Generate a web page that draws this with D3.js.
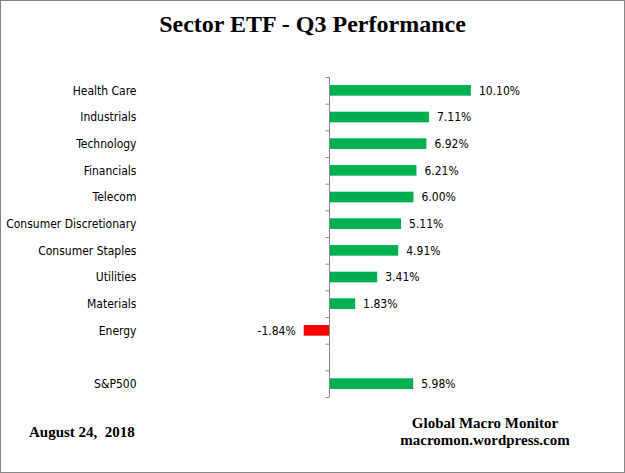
<!DOCTYPE html>
<html><head><meta charset="utf-8">
<script src="https://cdn.jsdelivr.net/npm/d3@7"></script>
<style>
html,body{margin:0;padding:0;background:#fff;}
svg{display:block;}
</style></head>
<body>
<svg id="chart" width="625" height="473"></svg>
<script>
const categories = ["Health Care","Industrials","Technology","Financials","Telecom","Consumer Discretionary","Consumer Staples","Utilities","Materials","Energy"," ","S&P500"];
const values = [10.10, 7.11, 6.92, 6.21, 6.00, 5.11, 4.91, 3.41, 1.83, -1.84, null, 5.98];
const valueLabels = ["10.10%","7.11%","6.92%","6.21%","6.00%","5.11%","4.91%","3.41%","1.83%","-1.84%","","5.98%"];
const titleText = "Sector ETF - Q3 Performance";
const dateText = "August 24,\u00a0\u00a02018";
const sourceLines = ["Global Macro Monitor","macromon.wordpress.com"];

(function(){
const W = 625, H = 473;
const svg = d3.select("#chart");
const labelFont = "'DejaVu Sans Condensed','DejaVu Sans',sans-serif";
const serif = "'Liberation Serif','Times New Roman',serif";

svg.append("rect").attr("x",0.5).attr("y",0.5).attr("width",W-1).attr("height",H-1)
  .attr("fill","#fff").attr("stroke","#868686").attr("stroke-width",1);

svg.append("text").attr("x",312.5).attr("y",32).attr("text-anchor","middle")
  .attr("font-family",serif).attr("font-weight","bold").attr("font-size",24)
  .attr("fill","#000").text(titleText);

const plotTop = 77, plotBottom = 397;
const y = d3.scaleBand().domain(categories).range([plotTop, plotBottom]).padding(0);
const x = d3.scaleLinear().domain([-4, 12]).range([329.5 - 4*14, 329.5 + 12*14]);

const barH = y.bandwidth()*0.4;
const rows = values.map((v,i)=>({v,c:categories[i],l:valueLabels[i]})).filter(d=>d.v!==null);
const g = svg.append("g");

g.selectAll("rect.bar").data(rows).enter().append("rect").attr("class","bar")
  .attr("x", d => x(Math.min(0,d.v)))
  .attr("width", d => Math.abs(x(d.v)-x(0)))
  .attr("y", d => y(d.c) + (y.bandwidth()-barH)/2)
  .attr("height", barH)
  .attr("fill", d => d.v >= 0 ? "#00B050" : "#FF0000");

g.selectAll("text.val").data(rows).enter().append("text").attr("class","val")
  .attr("x", d => d.v >= 0 ? x(d.v) + 8 : x(d.v) - 8)
  .attr("y", d => y(d.c) + y.bandwidth()/2)
  .attr("dy","0.36em")
  .attr("text-anchor", d => d.v >= 0 ? "start" : "end")
  .attr("font-family", labelFont).attr("font-size",12).attr("fill","#000")
  .text(d => d.l);

g.selectAll("text.cat").data(categories).enter().append("text").attr("class","cat")
  .attr("x",136.5).attr("y", d => y(d) + y.bandwidth()/2).attr("dy","0.36em")
  .attr("text-anchor","end").attr("font-family",labelFont).attr("font-size",12).attr("fill","#000")
  .text(d => d);

const yb = d3.scaleLinear().domain([0, categories.length]).range([plotTop, plotBottom]);
const axis = d3.axisLeft(yb).tickValues(d3.range(categories.length+1)).tickSize(4).tickSizeOuter(0).tickFormat("");
const ax = svg.append("g").attr("transform",`translate(${Math.round(x(0))-0.5},0)`).call(axis);
ax.selectAll("path,line").attr("stroke","#868686");
ax.select("path.domain").attr("d", `M0,${plotTop}V${plotBottom}`);

svg.append("text").attr("x",29).attr("y",437).attr("font-family",serif).attr("font-weight","bold")
  .attr("font-size",15).attr("fill","#000").text(dateText);
sourceLines.forEach((t,i)=>{
  svg.append("text").attr("x",485).attr("y",428 + i*17).attr("text-anchor","middle")
    .attr("font-family",serif).attr("font-weight","bold").attr("font-size",15).attr("fill","#000").text(t);
});
})();
</script>
</body></html>
